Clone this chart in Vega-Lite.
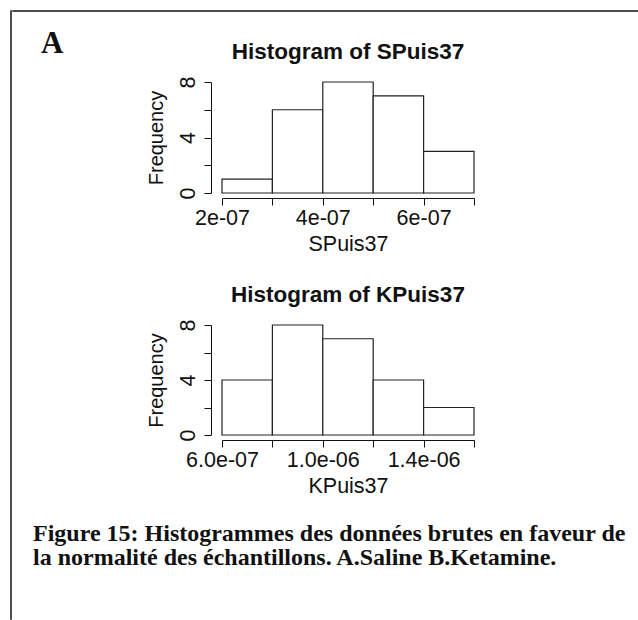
{
  "$schema": "https://vega.github.io/schema/vega-lite/v6.json",
  "padding": {"left": 10, "top": 10, "right": 0, "bottom": 0},
  "background": "white",
  "config": {
    "view": {"stroke": null},
    "font": "Liberation Sans",
    "axis": {
      "grid": false,
      "domainColor": "#111",
      "tickColor": "#111",
      "labelColor": "#111",
      "titleColor": "#111",
      "domainWidth": 1,
      "tickWidth": 1,
      "tickSize": 7,
      "labelFont": "Liberation Sans",
      "titleFont": "Liberation Sans",
      "labelFontSize": 21.5,
      "titleFontSize": 20,
      "titleFontWeight": "normal",
      "labelFlush": false,
      "labelOverlap": false
    },
    "title": {"color": "#111"}
  },
  "title": {
    "text": "A",
    "anchor": "start",
    "frame": "group",
    "font": "Liberation Serif",
    "fontSize": 31,
    "fontWeight": "bold",
    "color": "#111",
    "dx": 30,
    "offset": -50
  },
  "spacing": 0,
  "hconcat": [
    {
      "width": 0.001,
      "height": 608,
      "view": {"stroke": "#111", "strokeWidth": 1.5},
      "data": {"values": []},
      "mark": "rect",
      "encoding": {}
    },
    {
      "spacing": 28,
      "vconcat": [
        {
          "width": 625,
          "height": 0.001,
          "view": {"stroke": "#111", "strokeWidth": 1.5},
          "data": {"values": []},
          "mark": "rect",
          "encoding": {}
        },
        {
          "spacing": 19,
          "hconcat": [
            {
              "width": 0.001,
              "height": 0.001,
              "data": {"values": []},
              "mark": "rect",
              "encoding": {}
            },
            {
              "title": {
                "text": [
                  "Figure 15: Histogrammes des données brutes en faveur de",
                  "la normalité des échantillons. A.Saline B.Ketamine."
                ],
                "orient": "bottom",
                "anchor": "start",
                "frame": "group",
                "font": "Liberation Serif",
                "fontSize": 24,
                "fontWeight": "bold",
                "lineHeight": 24,
                "color": "#111",
                "dx": -189,
                "offset": 25
              },
              "bounds": "flush",
              "spacing": 132,
              "vconcat": [
                {
                  "width": 252,
                  "height": 111,
                  "title": {
                    "text": "Histogram of SPuis37",
                    "anchor": "middle",
                    "frame": "group",
                    "font": "Liberation Sans",
                    "fontSize": 22.5,
                    "fontWeight": "bold",
                    "offset": 13
                  },
                  "data": {
                    "values": [
                      {"lo": 2e-7, "hi": 3e-7, "n": 1},
                      {"lo": 3e-7, "hi": 4e-7, "n": 6},
                      {"lo": 4e-7, "hi": 5e-7, "n": 8},
                      {"lo": 5e-7, "hi": 6e-7, "n": 7},
                      {"lo": 6e-7, "hi": 7e-7, "n": 3}
                    ]
                  },
                  "mark": {"type": "rect", "fill": "white", "stroke": "#222", "strokeWidth": 1.2},
                  "encoding": {
                    "x": {
                      "field": "lo",
                      "type": "quantitative",
                      "scale": {"domain": [2e-7, 7e-7], "nice": false, "zero": false},
                      "axis": {
                        "title": "SPuis37",
                        "titleFontSize": 21.5,
                        "values": [2e-7, 3e-7, 4e-7, 5e-7, 6e-7, 7e-7],
                        "labelExpr": "['','','2e-07','','4e-07','','6e-07',''][round(datum.value*1e7)]",
                        "offset": 5,
                        "labelPadding": 2,
                        "titlePadding": 5
                      }
                    },
                    "x2": {"field": "hi"},
                    "y": {
                      "field": "n",
                      "type": "quantitative",
                      "scale": {"domain": [0, 8], "nice": false},
                      "axis": {
                        "title": "Frequency",
                        "values": [0, 2, 4, 6, 8],
                        "labelExpr": "datum.value % 4 == 0 ? datum.label : ''",
                        "labelAngle": -90,
                        "labelAlign": "center",
                        "labelBaseline": "bottom",
                        "offset": 11,
                        "labelPadding": 5,
                        "titlePadding": 11
                      }
                    },
                    "y2": {"datum": 0}
                  }
                },
                {
                  "width": 252,
                  "height": 110,
                  "title": {
                    "text": "Histogram of KPuis37",
                    "anchor": "middle",
                    "frame": "group",
                    "font": "Liberation Sans",
                    "fontSize": 22.5,
                    "fontWeight": "bold",
                    "offset": 13
                  },
                  "data": {
                    "values": [
                      {"lo": 6e-7, "hi": 8e-7, "n": 4},
                      {"lo": 8e-7, "hi": 1e-6, "n": 8},
                      {"lo": 1e-6, "hi": 1.2e-6, "n": 7},
                      {"lo": 1.2e-6, "hi": 1.4e-6, "n": 4},
                      {"lo": 1.4e-6, "hi": 1.6e-6, "n": 2}
                    ]
                  },
                  "mark": {"type": "rect", "fill": "white", "stroke": "#222", "strokeWidth": 1.2},
                  "encoding": {
                    "x": {
                      "field": "lo",
                      "type": "quantitative",
                      "scale": {"domain": [6e-7, 1.6e-6], "nice": false, "zero": false},
                      "axis": {
                        "title": "KPuis37",
                        "titleFontSize": 21.5,
                        "values": [6e-7, 8e-7, 1e-6, 1.2e-6, 1.4e-6, 1.6e-6],
                        "labelExpr": "['','','','','','','6.0e-07','','','','1.0e-06','','','','1.4e-06','',''][round(datum.value*1e7)]",
                        "offset": 5,
                        "labelPadding": 2,
                        "titlePadding": 5
                      }
                    },
                    "x2": {"field": "hi"},
                    "y": {
                      "field": "n",
                      "type": "quantitative",
                      "scale": {"domain": [0, 8], "nice": false},
                      "axis": {
                        "title": "Frequency",
                        "values": [0, 2, 4, 6, 8],
                        "labelExpr": "datum.value % 4 == 0 ? datum.label : ''",
                        "labelAngle": -90,
                        "labelAlign": "center",
                        "labelBaseline": "bottom",
                        "offset": 11,
                        "labelPadding": 5,
                        "titlePadding": 11
                      }
                    },
                    "y2": {"datum": 0}
                  }
                }
              ]
            }
          ]
        }
      ]
    }
  ]
}
